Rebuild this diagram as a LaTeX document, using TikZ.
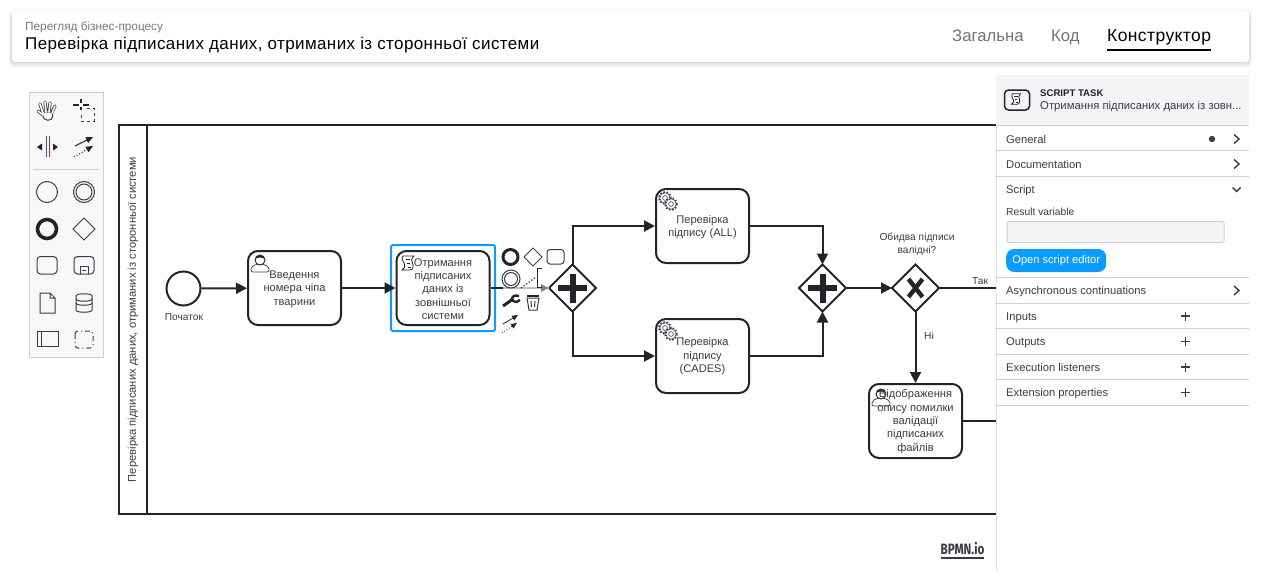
\documentclass[tikz,border=0pt]{standalone}
\usepackage{fontspec}
\setmainfont{Liberation Sans}
\newfontfamily\bpmnfont{Fira Sans}[Scale=1]
\newfontfamily\spacedfont{Liberation Sans}[LetterSpace=2.3]
\usetikzlibrary{arrows.meta,shapes.geometric,calc}
\newcommand{\pxf}[1]{\fontsize{#1}{#1}\selectfont}
\newcommand{\tasktext}{\fontsize{11.1}{13.4}\selectfont}
\definecolor{ink}{HTML}{22242A}
\definecolor{lbl}{HTML}{3A3D45}
\definecolor{sepc}{HTML}{CFD0D6}
\definecolor{hdbg}{HTML}{F3F4F5}
\definecolor{blueb}{HTML}{0A9CFF}
\definecolor{icong}{HTML}{3A3D45}
\tikzset{
 x=1pt,y=-1pt,
 taskbox/.style={draw=ink,line width=2pt,rounded corners=10pt,fill=white,minimum width=93pt,minimum height=74pt,inner sep=0pt},
 tasklabel/.style={font=\tasktext,text=lbl,align=center,inner sep=0pt},
 gatebox/.style={diamond,aspect=1,draw=ink,line width=2pt,fill=white,minimum width=47pt,minimum height=47pt,inner sep=0pt,outer sep=0pt},
 startbox/.style={circle,draw=ink,line width=2pt,fill=white,minimum size=34pt,inner sep=0pt},
 flow/.style={draw=ink,line width=2pt,-{Triangle[length=11pt,width=11pt]}},
 plain flow/.style={draw=ink,line width=2pt},
 mark stroke/.style={draw=ink,line width=6pt},
 smalllabel/.style={font=\fontsize{10.2}{13}\selectfont,text=lbl,align=center,inner sep=0pt},
 panel text/.style={font=\pxf{11.2},text=lbl,anchor=base west,inner sep=0pt},
 sepline/.style={draw=sepc,line width=1pt},
 chevron/.style={draw=lbl,line width=1.4pt},
 tool/.style={draw=icong,line width=1pt},
 headtab/.style={anchor=base west,inner sep=0pt},
}
\newcommand{\userico}[2]{%
 \begin{scope}[shift={(#1,#2)}]
  \draw[draw=lbl,line width=.7pt,fill=white,rounded corners=2pt] (-9,8) -- (-9,3) -- (-3,0) -- (3,0) -- (9,3) -- (9,8) -- cycle;
  \draw[draw=ink,line width=.9pt,fill=white] (0,-4) circle (5);
  \fill[ink] (-5,-5) .. controls (-4,-10) and (4,-10) .. (5,-5) .. controls (2,-7) and (-2,-7) .. (-5,-5) -- cycle;
 \end{scope}}
\newcommand{\onegear}[2]{%
  \draw[draw=lbl,line width=1.5pt,dash pattern=on 1.6pt off 1.7pt] (#1,#2) circle (6);
  \draw[draw=lbl,line width=.6pt,fill=white] (#1,#2) circle (5.2);
  \draw[draw=lbl,line width=.6pt] (#1,#2) circle (2.4);}
\newcommand{\gearico}[2]{%
 \begin{scope}[shift={(#1,#2)}]
  \onegear{-3}{-3}
  \onegear{3}{3}
 \end{scope}}
\newcommand{\scrollico}[3]{%
 \begin{scope}[shift={(#1,#2)},scale=#3]
  \draw[draw=ink,line width=.8pt,fill=white] (-5,-7) -- (6,-7) .. controls (3,-4) and (3,-2) .. (4.5,0) .. controls (6,3) and (5,7) .. (2,7) -- (-6,7) .. controls (-3,6) and (-3,3) .. (-3.5,1) .. controls (-5,-2) and (-7,-5) .. (-5,-7) -- cycle;
  \draw[draw=ink,line width=.6pt] (-2.5,-4) -- (2,-4) (-1.5,0) -- (1.5,0) (-.5,4) -- (2.5,4);
 \end{scope}}
\begin{document}
\begin{tikzpicture}
\useasboundingbox (0,0) rectangle (1261,578);
\fill[white] (0,0) rectangle (1261,578);
% header card shadow
\foreach \d in {5,4,3,2,1,0}{
 \fill[black,opacity=.022,rounded corners=4pt] (12-\d*.6,13) rectangle (1249+\d*.6,63+\d);
}
\foreach \d in {3,2,1}{
 \fill[black,opacity=.01,rounded corners=4pt] (12-\d,11-\d) rectangle (1249+\d,62);
}
\node[fill=white,rounded corners=3pt,minimum width=1237pt,minimum height=51pt,inner sep=0pt] (card) at (630.5,36.5) {};
\node[font=\pxf{11.8},text=gray!95!black,headtab] (sub) at (25,31) {Перегляд бізнес-процесу};
\node[font=\spacedfont\pxf{17},text=black,headtab] (title) at (25,49) {Перевірка підписаних даних, отриманих із сторонньої системи};
\node[font=\pxf{16.7},text=gray!90!black,headtab] (tab1) at (952,42) {Загальна};
\node[font=\pxf{16.7},text=gray!90!black,headtab] (tab2) at (1051,42) {Код};
\node[font=\spacedfont\pxf{17.5},text=black,headtab] (tab3) at (1107,42) {Конструктор};
\draw[black,line width=2pt] (1107,50) -- (1211,50);

% palette
\node[draw=sepc,fill=gray!6,line width=.8pt,minimum width=74pt,minimum height=265pt,inner sep=0pt] (palette) at (66,224.5) {};
\draw[draw=sepc,line width=1pt] (33,169) -- (99,169);
% hand
\begin{scope}[shift={(47,111)}]
 \draw[draw=icong,line width=3.2pt,line cap=round] (-4,2) -- (-7,-7) (-1,0) -- (-2,-9) (2,0) -- (3,-8) (5,1) -- (8,-5) (-4,4) -- (-9,0);
 \draw[draw=icong,fill=white,line width=1pt,rounded corners=3pt] (-5,1) -- (6,1) -- (5,9) -- (-3,9) -- cycle;
 \draw[draw=white,line width=1.6pt,line cap=round] (-4,2) -- (-7,-7) (-1,1) -- (-2,-9) (2,1) -- (3,-8) (5,2) -- (8,-5) (-4,4) -- (-9,0);
\end{scope}
% lasso
\draw[draw=ink,line width=2pt] (73,105) -- (79,105) (83,105) -- (89,105) (81,99) -- (81,103) (81,107) -- (81,110);
\draw[tool,dash pattern=on 3pt off 3pt] (87,108) -- (94,108) -- (94,121) -- (81,121) -- (81,113);
% space tool
\draw[draw=blue!50!black!70,line width=1pt] (46,136) -- (46,157);
\draw[draw=purple!60!black!80,line width=1pt] (49,136) -- (49,157);
\fill[ink] (37,147) -- (42,143.5) -- (42,150.5) -- cycle (58,147) -- (53,143.5) -- (53,150.5) -- cycle;
% global connect
\draw[draw=ink,line width=1pt,-{Triangle[length=7pt,width=6pt]}] (75,146) -- (93,137);
\draw[draw=ink,line width=1pt,dotted,-{Triangle[length=7pt,width=6pt]}] (74,157) -- (93,146);
% palette shapes
\draw[tool] (47,192) circle (10.5);
\draw[tool] (84,192) circle (10.5);
\draw[tool] (84,192) circle (8);
\draw[draw=ink,line width=3.6pt] (47,229) circle (9.5);
\draw[tool] (84,218) -- (95,229) -- (84,240) -- (73,229) -- cycle;
\draw[tool,rounded corners=3.5pt] (37,256.5) rectangle (57,274);
\draw[tool,rounded corners=3.5pt] (74,256.5) rectangle (94,274);
\draw[tool] (80,274) -- (80,266) -- (88,266) -- (88,274) (82,270) -- (86,270);
\draw[tool] (40,293) -- (50,293) -- (55,298) -- (55,313) -- (40,313) -- cycle (50,293) -- (50,298) -- (55,298);
\draw[tool] (76,296) .. controls (76,293) and (92,293) .. (92,296) -- (92,310) .. controls (92,313) and (76,313) .. (76,310) -- cycle;
\draw[tool] (76,299) .. controls (76,302) and (92,302) .. (92,299) (76,303) .. controls (76,306) and (92,306) .. (92,303);
\draw[tool] (37,331.5) rectangle (58,346.5) (41,331.5) -- (41,346.5);
\draw[tool,dash pattern=on 5pt off 3pt on 1pt off 3pt,rounded corners=3pt] (75,331) rectangle (93,348);

% lane
\node[draw=ink,line width=2pt,minimum width=900pt,minimum height=389.5pt,inner sep=0pt,anchor=north west] (lane) at (117.5,123.5) {};
\draw[draw=ink,line width=2pt] (147,124.5) -- (147,514);
\node[rotate=90,font=\pxf{11.2},text=lbl,inner sep=0pt] (lanelabel) at (133,319.5) {Перевірка підписаних даних, отриманих із сторонньої системи};

% flow elements
\node[startbox] (start) at (183.5,288.5) {};
\node[smalllabel] (startl) at (184,317) {Початок};
\node[taskbox] (t1) at (294.5,288) {};
\node[taskbox] (t2) at (443,288) {};
\node[gatebox] (g1) at (572.5,288) {};
\node[taskbox] (t3) at (702.5,226) {};
\node[taskbox] (t4) at (702.5,356) {};
\node[gatebox] (g2) at (822.5,288) {};
\node[gatebox] (g3) at (915.5,288) {};
\node[taskbox] (t5) at (915.5,421) {};
\coordinate (outyes) at (1000,288);
\coordinate (outno) at (1000,421);
% selection outline
\node[draw=blueb,line width=2pt,rounded corners=2pt,minimum width=104pt,minimum height=86pt,inner sep=0pt] (sel) at (443,288) {};

\draw[flow] (start) -- (t1);
\draw[flow] (t1) -- (t2);
\draw[plain flow] (t2) -- (g1);
\fill[white,opacity=.7] (503,283) rectangle (549,294);
\fill[gray] (548.5,288) -- (541,284) -- (541,292) -- cycle;
\draw[flow] (g1.north) |- (t3.west);
\draw[flow] (g1.south) |- (t4.west);
\draw[flow] (t3.east) -| (g2.north);
\draw[flow] (t4.east) -| (g2.south);
\draw[flow] (g2) -- (g3);
\draw[plain flow] (g3) -- (outyes);
\draw[flow] (g3) -- (t5);
\draw[plain flow] (t5) -- (outno);

% gateway markers
\draw[mark stroke] (558,288) -- (587,288) (572.5,274) -- (572.5,303);
\draw[mark stroke] (808,288) -- (837,288) (822.5,274) -- (822.5,303);
\draw[draw=ink,line width=4.4pt] (908.5,279) -- (922.5,297) (922.5,279) -- (908.5,297);

% task icons
\userico{260}{264}
\scrollico{408}{263}{1}
\gearico{668}{201}
\gearico{668}{331}
\userico{881}{398}

% task texts
\node[tasklabel] (t1l) at (294.5,289) {Введення\\номера чіпа\\тварини};
\node[tasklabel] (t2l) at (443,289) {Отримання\\підписаних\\даних із\\зовнішньої\\системи};
\node[tasklabel] (t3l) at (702.5,227) {Перевірка\\підпису (ALL)};
\node[tasklabel] (t4l) at (702.5,356.5) {Перевірка\\підпису\\(CADES)};
\node[tasklabel] (t5l) at (915.5,421.5) {Відображення\\опису помилки\\валідації\\підписаних\\файлів};
\node[smalllabel] (g3l) at (917,244) {Обидва підписи\\валідні?};
\node[smalllabel] (yes) at (980,281) {Так};
\node[smalllabel] (no) at (929,336) {Ні};

% context pad
\draw[draw=ink,line width=3pt] (510.5,257) circle (7.5);
\draw[tool] (533,248) -- (542,257) -- (533,266) -- (524,257) -- cycle;
\draw[tool,rounded corners=3pt] (547,249.5) rectangle (564,264);
\draw[tool] (511,279) circle (9);
\draw[tool] (511,279) circle (6.5);
\draw[draw=ink,line width=1pt] (542,268.5) -- (537,268.5) -- (537,287) -- (542,287);
\draw[draw=ink,line width=1.2pt,dotted] (521,288) -- (536,277);
\draw[draw=ink,line width=3pt] (503,306) -- (513,299);
\draw[draw=ink,line width=2.4pt] (519,296) .. controls (514,294) and (510,298) .. (513,301) .. controls (515,303) and (518,302) .. (520,300);
\draw[tool] (527,298) -- (539,298) -- (537,310) -- (529,310) -- cycle;
\draw[draw=ink,line width=1.6pt] (527,296) -- (539,296);
\draw[tool] (531,301) -- (531.5,307) (535,301) -- (534.5,307);
\draw[draw=ink,line width=.8pt,-{Triangle[length=6pt,width=5pt]}] (503,324) -- (518,315);
\draw[draw=ink,line width=.8pt,dotted,-{Triangle[length=6pt,width=5pt]}] (502,333) -- (517,323);

% bpmn.io
\node[font=\bpmnfont\bfseries\pxf{15},text=ink!90,xscale=.78,inner sep=0pt] (logo) at (962.5,549) {BPMN.io};
\draw[draw=ink!90,line width=1.5pt] (941,558) -- (984,558);

% side panel
\fill[white] (996,75) rectangle (1261,578);
\draw[draw=sepc!70,line width=.8pt] (996,75) -- (996,571);
\fill[hdbg] (996,75) rectangle (1249,125);
\node[draw=ink,line width=1.5pt,rounded corners=4pt,minimum width=25pt,minimum height=20pt,inner sep=0pt,fill=hdbg] (picon) at (1017,100) {};
\scrollico{1016}{99}{.75}
\node[font=\bfseries\pxf{9.6},text=ink,headtab] (ptype) at (1040,96.5) {SCRIPT TASK};
\node[font=\pxf{11.3},text=lbl,headtab] (pname) at (1040,109.5) {Отримання підписаних даних із зовн...};
\foreach \yy in {125,150.5,176,277,303,328,354,379,405}{
 \draw[sepline] (996,\yy) -- (1249,\yy);
}
\node[panel text] (r1) at (1006,143) {General};
\node[panel text] (r2) at (1006,168) {Documentation};
\node[panel text] (r3) at (1006,193.5) {Script};
\node[panel text,font=\pxf{10.3}] (rv) at (1006,215) {Result variable};
\node[draw=sepc,fill=hdbg,line width=1pt,rounded corners=1.5pt,minimum width=217pt,minimum height=21pt,inner sep=0pt,anchor=west] (inp) at (1006.5,232) {};
\node[fill=blueb,rounded corners=8pt,minimum width=100pt,minimum height=23pt,inner sep=0pt,font=\pxf{11.1},text=white,anchor=west] (btn) at (1006,260.5) {Open script editor};
\node[panel text] (r4) at (1006,294.5) {Asynchronous continuations};
\node[panel text] (r5) at (1006,320) {Inputs};
\node[panel text] (r6) at (1006,345.5) {Outputs};
\node[panel text] (r7) at (1006,371) {Execution listeners};
\node[panel text] (r8) at (1006,396.5) {Extension properties};
\fill[lbl] (1212,139) circle (3.2);
\foreach \yy in {139,164,290.5}{
 \draw[chevron] (1234,\yy-4.5) -- (1239,\yy) -- (1234,\yy+4.5);
}
\draw[chevron] (1232.5,187.5) -- (1236.5,191.5) -- (1240.5,187.5);
\foreach \yy in {316,341.5,367,392.5}{
 \draw[draw=lbl,line width=1.3pt] (1181,\yy) -- (1190,\yy) (1185.5,\yy-4.5) -- (1185.5,\yy+4.5);
}
\end{tikzpicture}
\end{document}
